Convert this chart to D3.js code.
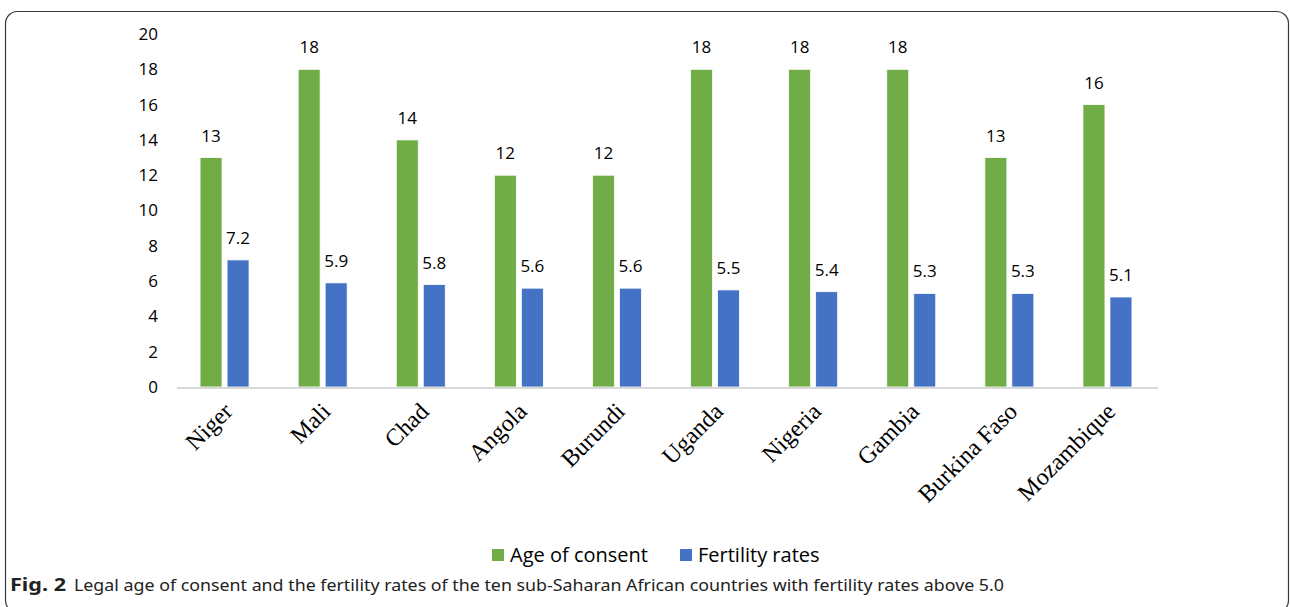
<!DOCTYPE html>
<html>
<head>
<meta charset="utf-8">
<script src="https://cdn.jsdelivr.net/npm/d3@7"></script>
<style>
  body { margin: 0; background: #fff; }
</style>
</head>
<body>
<div id="chart"></div>
<script>
// data
countries = ["Niger", "Mali", "Chad", "Angola", "Burundi", "Uganda", "Nigeria", "Gambia", "Burkina Faso", "Mozambique"];
ageOfConsent = [13, 18, 14, 12, 12, 18, 18, 18, 13, 16];
fertilityRates = [7.2, 5.9, 5.8, 5.6, 5.6, 5.5, 5.4, 5.3, 5.3, 5.1];
seriesNames = ["Age of consent", "Fertility rates"];
yTicks = [0, 2, 4, 6, 8, 10, 12, 14, 16, 18, 20];

width = 1290;
height = 607;
colors = ["#70AD47", "#4472C4"];

rows = countries.map(function(c, i) {
  return {country: c, values: [ageOfConsent[i], fertilityRates[i]]};
});

var svg = d3.select("#chart").append("svg")
  .attr("width", width)
  .attr("height", height);

// rounded frame around the figure (bottom edge runs off the page)
svg.append("rect")
  .attr("x", 5.5)
  .attr("y", 11.5)
  .attr("width", 1283)
  .attr("height", 601)
  .attr("rx", 12)
  .attr("fill", "none")
  .attr("stroke", "#3a3a3a")
  .attr("stroke-width", 1.2);

x = d3.scaleBand()
  .domain(countries)
  .range([177, 1158])
  .padding(0);

x1 = d3.scaleBand()
  .domain([0, 1])
  .range([0, 50]);

y = d3.scaleLinear()
  .domain([0, 20])
  .range([387, 34]);

// y tick labels (no axis line in the original)
var yAxis = svg.append("g")
  .attr("transform", "translate(166,0)")
  .call(d3.axisLeft(y).tickValues(yTicks).tickSize(0).tickPadding(8));
yAxis.select(".domain").remove();
yAxis.selectAll("text")
  .attr("font-family", "'Open Sans', sans-serif")
  .attr("font-size", "17px")
  .attr("fill", "#000");

var groups = svg.selectAll(".grp")
  .data(rows)
  .join("g")
  .attr("class", "grp")
  .attr("transform", function(d) { return "translate(" + (x(d.country) + x.bandwidth()/2 - 26) + ",0)"; });

groups.selectAll("rect")
  .data(function(d) { return d.values; })
  .join("rect")
  .attr("x", function(d, i) { return x1(i) + i*2; })
  .attr("y", function(d) { return y(d); })
  .attr("width", 22)
  .attr("height", function(d) { return y(0) - y(d); })
  .attr("fill", function(d, i) { return colors[i]; })
  .attr("stroke", "#fff")
  .attr("stroke-width", 0.8);

groups.selectAll(".lbl")
  .data(function(d) { return d.values; })
  .join("text")
  .attr("class", "lbl")
  .attr("x", function(d, i) { return x1(i) + i*2 + 11; })
  .attr("y", function(d) { return y(d) - 16; })
  .attr("text-anchor", "middle")
  .attr("font-family", "'Open Sans', sans-serif")
  .attr("font-size", "17px")
  .attr("fill", "#000")
  .text(function(d) { return d; });

// x axis
svg.append("line")
  .attr("x1", 177)
  .attr("x2", 1158)
  .attr("y1", y(0) + 1)
  .attr("y2", y(0) + 1)
  .attr("stroke", "#d9d9d9")
  .attr("stroke-width", 2);

svg.selectAll(".cat")
  .data(countries)
  .join("text")
  .attr("class", "cat")
  .attr("transform", function(d) { return "translate(" + (x(d) + x.bandwidth()/2 - 4) + ",401) rotate(-45)"; })
  .attr("text-anchor", "end")
  .attr("dy", "0.7em")
  .attr("font-family", "'Liberation Serif', 'Times New Roman', serif")
  .attr("font-size", "24px")
  .attr("fill", "#000")
  .text(function(d) { return d; });

// legend
var legend = svg.append("g").attr("transform", "translate(492,555)");
var legX = [0, 188];
legend.selectAll("rect")
  .data(seriesNames)
  .join("rect")
  .attr("x", function(d, i) { return legX[i]; })
  .attr("y", -6)
  .attr("width", 12)
  .attr("height", 12)
  .attr("fill", function(d, i) { return colors[i]; });
legend.selectAll("text")
  .data(seriesNames)
  .join("text")
  .attr("x", function(d, i) { return legX[i] + 18; })
  .attr("y", 0)
  .attr("dy", "0.35em")
  .attr("font-family", "'Open Sans', sans-serif")
  .attr("font-size", "20px")
  .attr("fill", "#000")
  .text(function(d) { return d; });

// caption
var cap = svg.append("text")
  .attr("x", 10)
  .attr("y", 591)
  .attr("font-family", "'Noto Sans', sans-serif")
  .attr("font-size", "17px")
  .attr("fill", "#222");
cap.append("tspan")
  .attr("font-weight", "bold")
  .attr("textLength", 56)
  .attr("lengthAdjust", "spacingAndGlyphs")
  .text("Fig. 2");
cap.append("tspan")
  .attr("x", 74)
  .attr("textLength", 930)
  .attr("lengthAdjust", "spacingAndGlyphs")
  .text("Legal age of consent and the fertility rates of the ten sub-Saharan African countries with fertility rates above 5.0");
</script>
</body>
</html>
